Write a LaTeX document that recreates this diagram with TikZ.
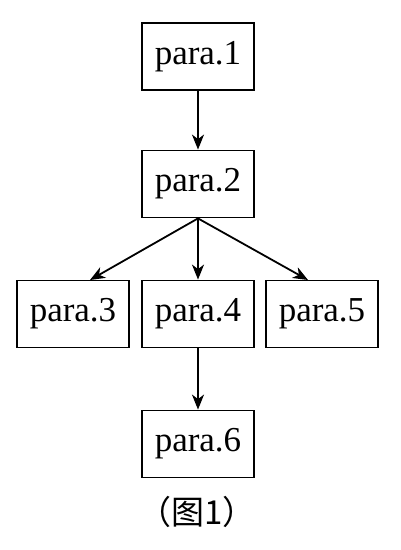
\documentclass[tikz,border=0pt]{standalone}
\usepackage{fontspec}
\setmainfont{Liberation Serif}
\newfontfamily\cjk{Noto Sans CJK SC}
\usetikzlibrary{arrows.meta}
\begin{document}
\begin{tikzpicture}[x=1pt,y=-1pt,
  parabox/.style={draw,line width=1.8pt,minimum width=112pt,minimum height=67pt,inner sep=0pt,font=\fontsize{35}{42}\selectfont},
  conn/.style={line width=1.8pt,-{Stealth[length=15pt,width=12pt,inset=4.5pt]}}]
\useasboundingbox (0,0) rectangle (400,550);
\node[parabox] (p1) at (198,56.5) {para.1};
\node[parabox] (p2) at (198,184) {para.2};
\node[parabox] (p3) at (73,314) {para.3};
\node[parabox] (p4) at (198,314) {para.4};
\node[parabox] (p5) at (322,314) {para.5};
\node[parabox] (p6) at (198,444) {para.6};
\node[font=\cjk\fontsize{33}{40}\selectfont] (cap) at (197,512) {（图1）};
\coordinate (t3) at (90,280);
\coordinate (t5) at (308,280);
\draw[conn] (p1.south) -- (p2.north);
\draw[conn] (p2.south) -- (t3);
\draw[conn] (p2.south) -- (p4.north);
\draw[conn] (p2.south) -- (t5);
\draw[conn] (p4.south) -- (p6.north);
\end{tikzpicture}
\end{document}
